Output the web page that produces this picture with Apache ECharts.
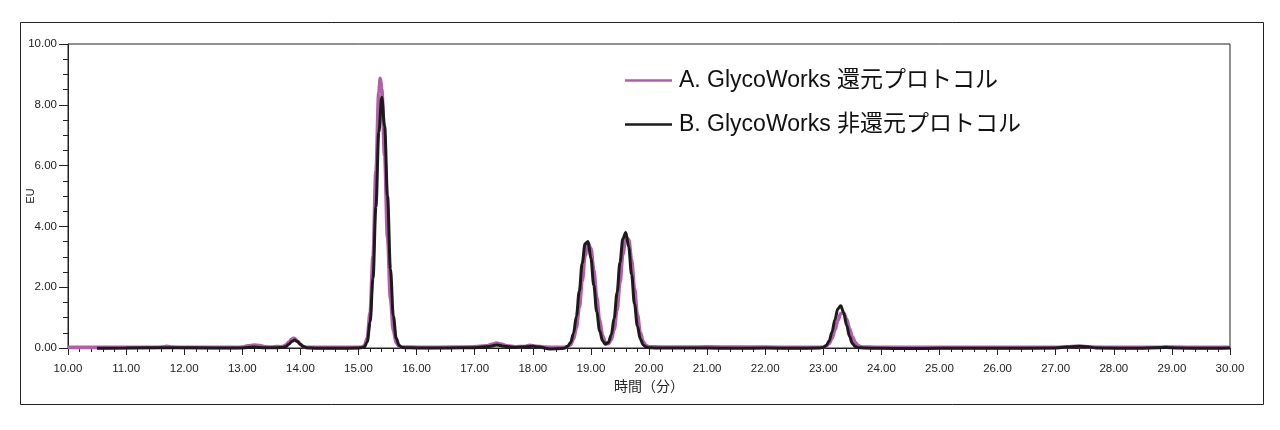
<!DOCTYPE html>
<html>
<head>
<meta charset="utf-8">
<script src="https://cdn.jsdelivr.net/npm/echarts@6/dist/echarts.min.js"></script>
<style>
html,body{margin:0;padding:0;background:#fff;}
#chart{width:1280px;height:430px;}
</style>
</head>
<body>
<div id="chart"></div>
<script>
// Series names
const seriesNames = ['A. GlycoWorks 還元プロトコル', 'B. GlycoWorks 非還元プロトコル'];
// Axis titles
const xAxisTitle = '時間（分）';
const yAxisTitle = 'EU';

// Series A: [time (min), EU]
const seriesA = [
  [10.0,0.02],[10.5,0.02],[11.0,0.02],[11.5,0.02],[11.6,0.03],[11.7,0.06],[11.8,0.03],[12.0,0.02],[12.5,0.02],[12.9,0.02],
  [13.0,0.03],[13.1,0.07],[13.2,0.10],[13.3,0.08],[13.4,0.04],[13.5,0.03],[13.6,0.05],[13.65,0.04],[13.7,0.05],[13.75,0.10],
  [13.8,0.19],[13.85,0.29],[13.88,0.32],[13.9,0.31],[13.95,0.23],[14.0,0.12],[14.05,0.05],[14.1,0.02],[14.3,0.02],[14.6,0.02],
  [15.0,0.02],[15.05,0.03],[15.10,0.07],[15.15,0.32],[15.20,1.17],[15.25,3.02],[15.30,5.82],[15.35,8.42],[15.375,8.87],[15.40,8.52],
  [15.45,6.32],[15.50,3.62],[15.55,1.62],[15.60,0.57],[15.65,0.17],[15.70,0.06],[15.75,0.03],[15.9,0.03],[16.2,0.02],[16.6,0.03],
  [17.0,0.04],[17.2,0.07],[17.3,0.12],[17.38,0.16],[17.45,0.13],[17.55,0.07],[17.7,0.04],[17.85,0.05],[17.95,0.09],[18.05,0.06],
  [18.2,0.03],[18.4,0.02],[18.5,0.02],[18.55,0.02],[18.60,0.05],[18.65,0.11],[18.70,0.29],[18.75,0.67],[18.80,1.33],[18.85,2.20],
  [18.90,3.03],[18.95,3.46],[19.00,3.27],[19.05,2.56],[19.10,1.67],[19.15,0.90],[19.20,0.41],[19.25,0.18],[19.30,0.14],[19.35,0.27],
  [19.40,0.61],[19.45,1.25],[19.50,2.15],[19.55,3.08],[19.60,3.64],[19.65,3.57],[19.70,2.91],[19.75,1.96],[19.80,1.10],[19.85,0.52],
  [19.90,0.21],[19.95,0.08],[20.0,0.04],[20.1,0.04],[20.3,0.03],[20.7,0.03],[21.0,0.04],[21.5,0.03],[22.0,0.03],[22.5,0.02],
  [22.9,0.02],[23.0,0.03],[23.05,0.06],[23.10,0.15],[23.15,0.32],[23.20,0.59],[23.25,0.90],[23.30,1.13],[23.35,1.15],[23.40,0.96],
  [23.45,0.65],[23.50,0.37],[23.55,0.18],[23.60,0.08],[23.65,0.04],[23.7,0.03],[23.8,0.03],[24.0,0.02],[24.5,0.02],[25.0,0.02],
  [26.0,0.02],[27.0,0.02],[27.2,0.04],[27.35,0.06],[27.5,0.05],[27.6,0.03],[28.0,0.02],[28.8,0.02],[28.9,0.04],[29.0,0.03],
  [29.5,0.02],[30.0,0.02]
];

// Series B: [time (min), EU]
const seriesB = [
  [10.5,-0.01],[11.0,0.0],[11.7,0.01],[12.5,0.0],[13.0,0.0],[13.2,0.03],[13.4,0.01],[13.6,0.01],[13.7,0.02],[13.75,0.05],
  [13.8,0.12],[13.85,0.21],[13.9,0.26],[13.95,0.21],[14.0,0.12],[14.05,0.05],[14.1,0.01],[14.3,-0.01],[14.6,-0.01],[15.0,0.0],
  [15.05,0.01],[15.10,0.03],[15.15,0.20],[15.20,0.85],[15.25,2.30],[15.30,4.65],[15.35,7.10],[15.40,8.25],[15.45,7.30],[15.50,5.00],
  [15.55,2.60],[15.60,1.05],[15.65,0.32],[15.70,0.08],[15.75,0.02],[15.8,0.01],[16.0,0.0],[16.5,0.0],[17.0,0.01],[17.25,0.05],
  [17.38,0.10],[17.5,0.06],[17.7,0.02],[17.9,0.04],[18.0,0.06],[18.1,0.03],[18.3,-0.03],[18.5,-0.02],[18.55,0.0],[18.60,0.06],
  [18.65,0.18],[18.70,0.48],[18.75,1.04],[18.80,1.87],[18.85,2.79],[18.90,3.43],[18.95,3.50],[19.00,2.95],[19.05,2.06],[19.10,1.19],
  [19.15,0.57],[19.20,0.24],[19.25,0.12],[19.30,0.18],[19.35,0.43],[19.40,0.98],[19.45,1.82],[19.50,2.81],[19.55,3.59],[19.60,3.80],
  [19.65,3.33],[19.70,2.42],[19.75,1.45],[19.80,0.72],[19.85,0.30],[19.90,0.10],[19.95,0.03],[20.0,0.01],[20.1,0.0],[20.5,0.0],
  [21.0,0.0],[21.5,-0.01],[22.0,0.0],[22.5,-0.01],[22.9,0.0],[22.95,0.0],[23.00,0.02],[23.05,0.08],[23.10,0.23],[23.15,0.53],
  [23.20,0.93],[23.25,1.29],[23.30,1.39],[23.35,1.17],[23.40,0.76],[23.45,0.39],[23.50,0.15],[23.55,0.05],[23.60,0.01],[23.7,0.0],
  [24.0,-0.01],[24.5,-0.02],[25.0,-0.01],[26.0,-0.01],[27.0,0.0],[27.2,0.03],[27.4,0.06],[27.55,0.04],[27.7,0.0],[28.5,-0.01],
  [28.9,0.02],[29.1,0.0],[29.5,-0.01],[30.0,0.0]
];

const colorA = '#b25ea9';
const colorB = '#1c1a1b';
const FONT = '"Liberation Sans", Arial, "Noto Sans CJK JP", sans-serif';

const chart = echarts.init(document.getElementById('chart'), null, {renderer: 'canvas'});
chart.setOption({
  animation: false,
  backgroundColor: '#fff',
  textStyle: {fontFamily: FONT},
  graphic: [{
    type: 'rect', silent: true,
    shape: {x: 20.5, y: 22.5, width: 1243, height: 382},
    style: {fill: 'none', stroke: '#222', lineWidth: 1}
  }],
  grid: {left: 68, right: 50, top: 44, bottom: 82, outerBoundsMode: 'none', containLabel: false,
         show: true, borderColor: '#222', borderWidth: 1, backgroundColor: 'transparent'},
  legend: {
    orient: 'vertical', left: 620, top: 64, itemWidth: 47, itemHeight: 2.5, itemGap: 21,
    icon: 'rect',
    textStyle: {fontSize: 23, color: '#111', fontFamily: FONT, padding: [0, 0, 0, 2]},
    data: seriesNames
  },
  xAxis: {
    type: 'value', min: 10, max: 30, interval: 1,
    name: xAxisTitle, nameLocation: 'middle', nameGap: 32, nameMoveOverlap: false,
    nameTextStyle: {fontSize: 14, color: '#222', fontFamily: FONT},
    axisLine: {show: true, lineStyle: {color: '#222', width: 1}},
    axisTick: {show: true, length: 7, lineStyle: {color: '#222'}},
    minorTick: {show: true, splitNumber: 5, length: 4, lineStyle: {color: '#222'}},
    splitLine: {show: false},
    axisLabel: {fontSize: 11.5, color: '#222', margin: 15, formatter: v => v.toFixed(2)}
  },
  yAxis: {
    type: 'value', min: 0, max: 10, interval: 2,
    name: yAxisTitle, nameLocation: 'middle', nameGap: 32, nameRotate: 90, nameMoveOverlap: false,
    nameTextStyle: {fontSize: 11, color: '#222', fontFamily: FONT},
    axisLine: {show: true, lineStyle: {color: '#222', width: 1}},
    axisTick: {show: true, length: 9, lineStyle: {color: '#222'}},
    minorTick: {show: true, splitNumber: 4, length: 5, lineStyle: {color: '#222'}},
    splitLine: {show: false},
    axisLabel: {fontSize: 11.5, color: '#222', margin: 11, formatter: v => v.toFixed(2)}
  },
  series: [
    {name: seriesNames[0], type: 'line', data: seriesA, symbol: 'none', smooth: 0.35, smoothMonotone: 'x', clip: false,
     lineStyle: {color: colorA, width: 3.6}, itemStyle: {color: colorA}, z: 2},
    {name: seriesNames[1], type: 'line', data: seriesB, symbol: 'none', smooth: 0.35, smoothMonotone: 'x', clip: false,
     lineStyle: {color: colorB, width: 3}, itemStyle: {color: colorB}, z: 3}
  ]
});
</script>
</body>
</html>
